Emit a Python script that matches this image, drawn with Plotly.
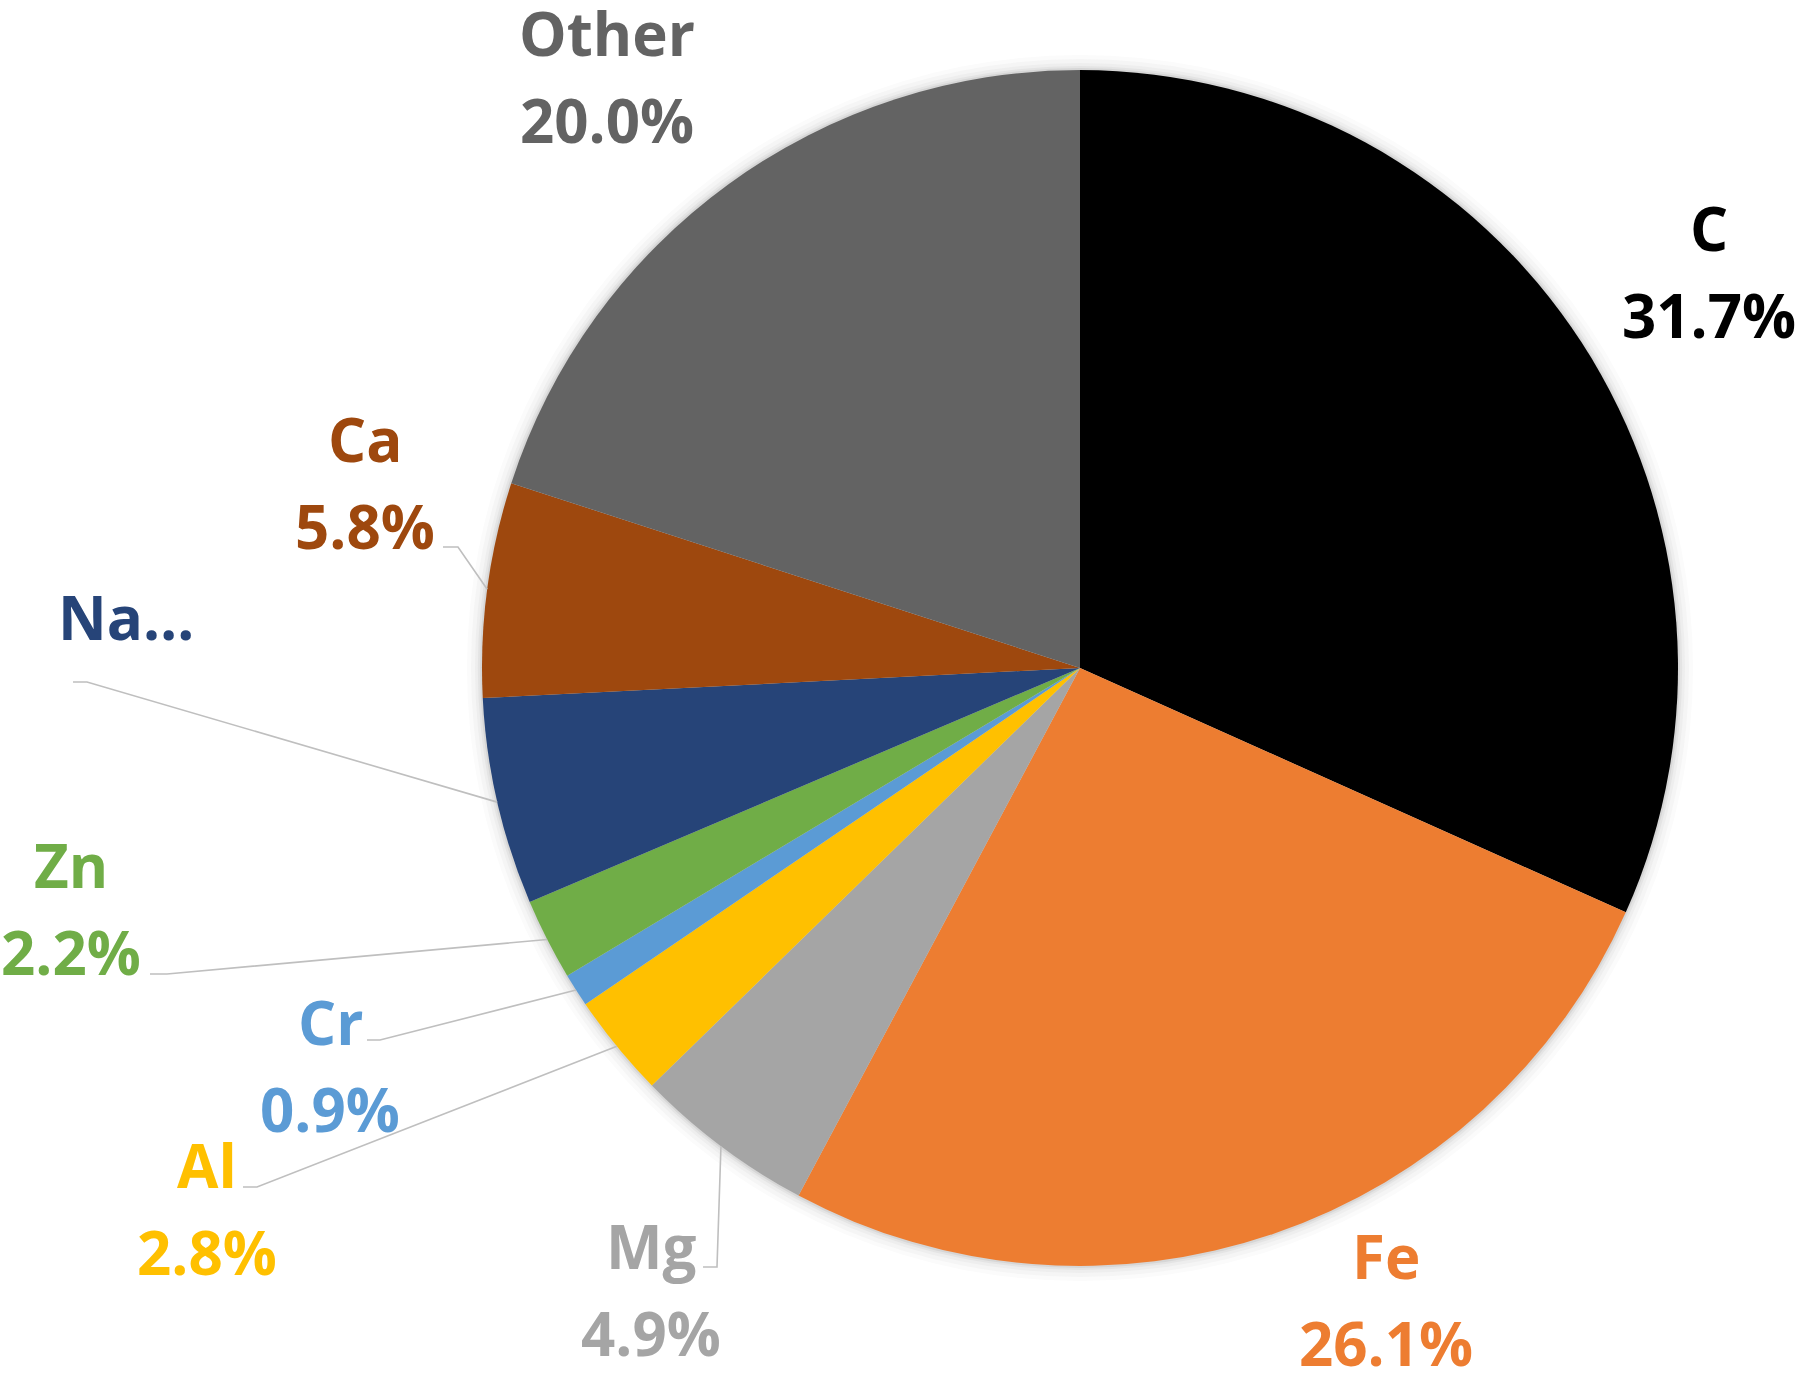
import math
import plotly.graph_objects as go

# ---------------- data ----------------
categories = ["C", "Fe", "Mg", "Al", "Cr", "Zn", "Na", "Ca", "Other"]
values = [31.7, 26.1, 4.9, 2.8, 0.9, 2.2, 5.6, 5.8, 20.0]
colors = ["#000000", "#ED7D31", "#A5A5A5", "#FFC000", "#5B9BD5",
          "#70AD47", "#264478", "#9E480E", "#636363"]
# label text as printed in the chart (Na label is truncated in the source)
label_names = ["C", "Fe", "Mg", "Al", "Cr", "Zn", "Na…", "Ca", "Other"]
label_show_pct = [True, True, True, True, True, True, False, True, True]

# ---------------- layout constants ----------------
W, H = 1800, 1373
CX, CY, R = 1080, 668, 598          # pie centre / radius in px
FONT = dict(family="Open Sans, Liberation Sans, sans-serif", size=60, weight="bold")
LINE_GAP = 87

# centre of the first label line, px
label_pos = {
    "C": (1709, 228), "Fe": (1386, 1256), "Mg": (651, 1246), "Al": (207, 1165),
    "Cr": (330, 1022), "Zn": (71, 865), "Na": (126, 617), "Ca": (365, 439),
    "Other": (607, 33),
}
# leader-line stub near the label (start, bend), px
leader_stub = {
    "Ca": ((443, 547), (458, 547)),
    "Na": ((73, 682), (87, 682)),
    "Zn": ((150, 974), (167, 974)),
    "Cr": ((367, 1040), (380, 1040)),
    "Al": ((243, 1187), (257, 1187)),
    "Mg": ((703, 1267), (717, 1267)),
}


def px(x, y):
    return x / W, 1 - y / H


def dom(r):
    return dict(x=[(CX - r) / W, (CX + r) / W], y=[1 - (CY + r) / H, 1 - (CY - r) / H])


fig = go.Figure()

# soft halo around the pie
for off, col in [(15, "#fbfbfb"), (11, "#f5f5f5"), (7, "#eeeeee"), (4, "#e4e4e4"), (2, "#d6d6d6")]:
    fig.add_trace(go.Pie(values=[1], labels=["halo"], marker=dict(colors=[col], line=dict(width=0)),
                         textinfo="none", hoverinfo="skip", sort=False, domain=dom(R + off),
                         showlegend=False))

fig.add_trace(go.Pie(
    labels=categories, values=values, sort=False, direction="clockwise", rotation=0,
    marker=dict(colors=colors, line=dict(width=0)), textinfo="none",
    domain=dom(R), showlegend=False,
))

total = sum(values)
annotations = []
shapes = []
cum = 0.0
for cat, v, col, name, showp in zip(categories, values, colors, label_names, label_show_pct):
    lx, ly = label_pos[cat]
    x, y = px(lx, ly)
    annotations.append(dict(text=name, x=x, y=y, xref="paper", yref="paper",
                            xanchor="center", yanchor="middle", showarrow=False,
                            font=dict(color=col, **FONT)))
    if showp:
        x2, y2 = px(lx, ly + LINE_GAP)
        annotations.append(dict(text=f"{v:.1f}%", x=x2, y=y2, xref="paper", yref="paper",
                                xanchor="center", yanchor="middle", showarrow=False,
                                font=dict(color=col, **FONT)))
    theta = 2 * math.pi * (cum + v / 2) / total
    if cat in leader_stub:
        (sx, sy), (bx, by) = leader_stub[cat]
        ex, ey = CX + R * math.sin(theta), CY - R * math.cos(theta)
        p = [px(sx, sy), px(bx, by), px(ex, ey)]
        path = "M {:.5f},{:.5f} L {:.5f},{:.5f} L {:.5f},{:.5f}".format(
            p[0][0], p[0][1], p[1][0], p[1][1], p[2][0], p[2][1])
        shapes.append(dict(type="path", path=path, xref="paper", yref="paper",
                           line=dict(color="#BFBFBF", width=1.6), layer="above"))
    cum += v

fig.update_layout(
    width=W, height=H, margin=dict(l=0, r=0, t=0, b=0),
    paper_bgcolor="white", plot_bgcolor="white", showlegend=False,
    annotations=annotations, shapes=shapes,
)

fig.write_html("out.html", config={"displayModeBar": False},
               post_script="document.body.style.margin='0';document.body.style.overflow='hidden';")
